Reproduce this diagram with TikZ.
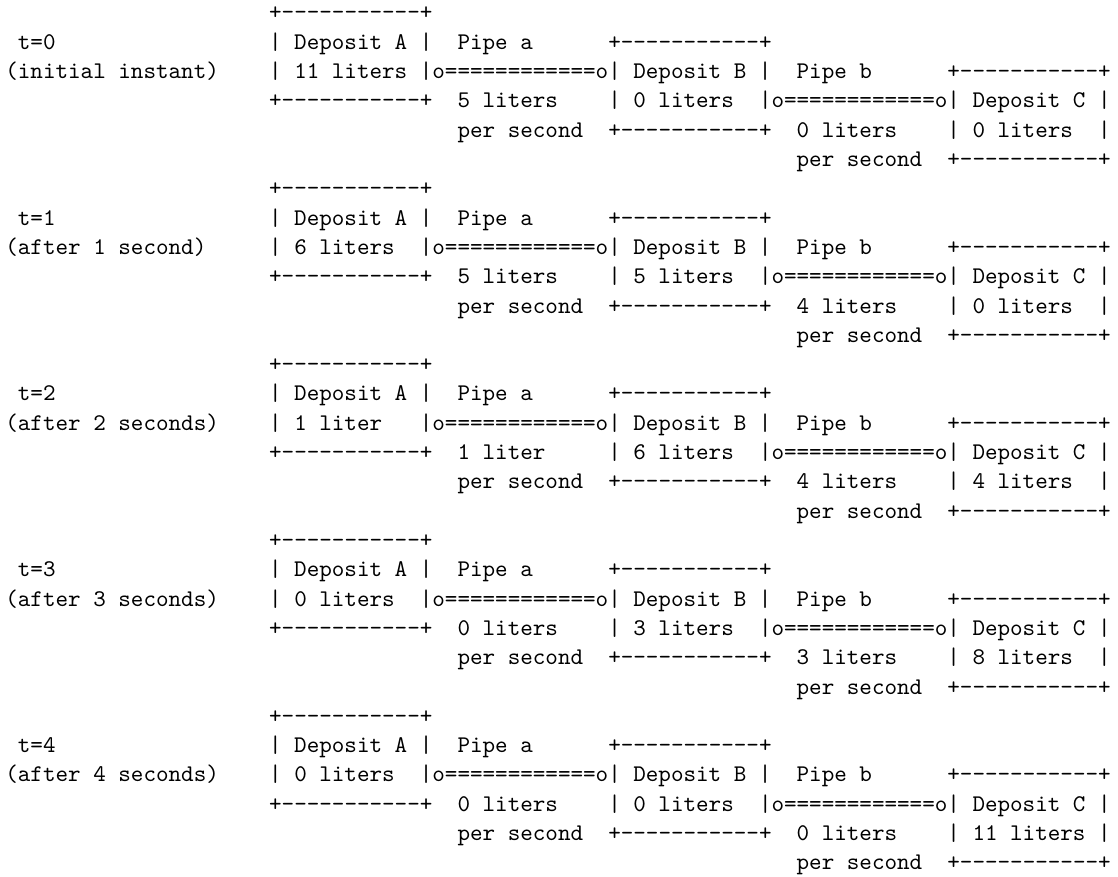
\documentclass[tikz,border=0pt]{standalone}
\usepackage{tikz}

\begin{document}
\begin{tikzpicture}[x=5.25pt,y=-12.25pt,
    ascii/.style={font=\ttfamily,inner sep=0pt,anchor=base west}
  ]
  \useasboundingbox (-0.39,-0.682) rectangle (88.62,29.21);
  \foreach \k/\when/\av/\fa/\bv/\fb/\cv in {
      0/{(initial instant)}/{11 liters}/{5 liters}/{0 liters}/{0 liters}/{0 liters},
      1/{(after 1 second)}/{6 liters}/{5 liters}/{5 liters}/{4 liters}/{0 liters},
      2/{(after 2 seconds)}/{1 liter}/{1 liter}/{6 liters}/{4 liters}/{4 liters},
      3/{(after 3 seconds)}/{0 liters}/{0 liters}/{3 liters}/{3 liters}/{8 liters},
      4/{(after 4 seconds)}/{0 liters}/{0 liters}/{0 liters}/{0 liters}/{11 liters}}
    {
    \pgfmathtruncatemacro{\r}{6*\k}
    \node[ascii] (t\k) at (1,\r+1) {t=\k};
    \node[ascii] (when\k) at (0,\r+2) {\when};
    % deposits
    \foreach \d/\c/\o/\v in {A/21/0/\av,B/48/1/\bv,C/75/2/\cv}
      {
      \node[ascii] (top\d\k) at (\c,\r+\o) {+-----------+};
      \node[ascii] (name\d\k) at (\c,\r+\o+1) {| Deposit \d\ |};
      \node[ascii] (left\d\k) at (\c,\r+\o+2) {|};
      \node[ascii] (val\d\k) at (\c+2,\r+\o+2) {\v};
      \node[ascii] (right\d\k) at (\c+12,\r+\o+2) {|};
      \node[ascii] (bot\d\k) at (\c,\r+\o+3) {+-----------+};
      }
    % pipes
    \foreach \p/\c/\o/\f in {a/34/2/\fa,b/61/3/\fb}
      {
      \node[ascii] (pipe\p\k) at (\c+2,\r+\o-1) {Pipe \p};
      \node[ascii] (tube\p\k) at (\c,\r+\o) {o============o};
      \node[ascii] (flow\p\k) at (\c+2,\r+\o+1) {\f};
      \node[ascii] (rate\p\k) at (\c+2,\r+\o+2) {per second};
      }
    }
\end{tikzpicture}
\end{document}
